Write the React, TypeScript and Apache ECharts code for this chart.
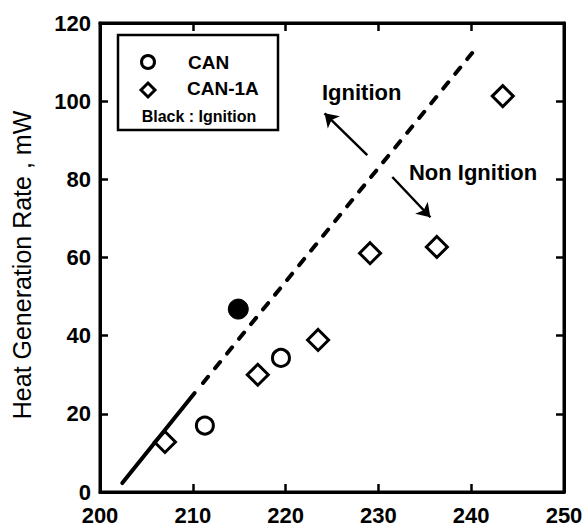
import React, { useEffect, useRef } from "react";
import * as echarts from "echarts";

const canOpen: number[][] = [[211.3, 17], [219.5, 34.3]];
const canIgnition: number[][] = [[214.9, 46.8]];
const can1aOpen: number[][] = [[207.0, 12.8], [217.0, 30.0], [223.5, 38.9], [229.1, 61.1], [236.3, 62.7], [243.4, 101.3]];
const solidBoundary: number[][] = [[202.4, 2.3], [210.2, 25.3]];
const dashedBoundary: number[][] = [[211.1, 27.9], [240.1, 112.3]];
const ignitionArrow: number[][] = [[228.8, 86.2], [224.2, 96.9]];
const nonIgnitionArrow: number[][] = [[231.5, 80.6], [235.6, 70.3]];
const annotations: { name: string; value: number[] }[] = [
  { name: "Ignition", value: [228.2, 102.3] },
  { name: "Non Ignition", value: [240.2, 81.8] },
];
const xRange: number[] = [200, 250];
const yRange: number[] = [0, 120];
const yTitle = "Heat Generation Rate , mW";

const FONT = "Liberation Sans, Arial, sans-serif";

export default function App() {
  const ref = useRef<HTMLDivElement>(null);
  useEffect(() => {
    if (!ref.current) return;
    const chart = echarts.init(ref.current, null, { renderer: "svg" });
    const axisLine = () => ({ show: true, onZero: false, lineStyle: { color: "#000", width: 3 } });
    const tick = () => ({ show: true, inside: true, length: 8, lineStyle: { color: "#000", width: 2.5 } });
    const tickLabel = { color: "#000", fontFamily: FONT, fontWeight: "bold" as const, fontSize: 22, lineHeight: 22 };
    const txt = (text: string, size: number, bold: boolean, extra: any = {}) => ({
      text, fill: "#000", fontSize: size, fontWeight: bold ? "bold" : "normal", fontFamily: FONT, ...extra,
    });
    chart.setOption({
      animation: false,
      backgroundColor: "#fff",
      grid: { left: 100, right: 23, top: 23, bottom: 34, show: true, borderColor: "#000", borderWidth: 3 },
      xAxis: [
        {
          type: "value", min: xRange[0], max: xRange[1], interval: 10, position: "bottom",
          axisLine: axisLine(), axisTick: tick(), splitLine: { show: false },
          axisLabel: { ...tickLabel, margin: 12 },
        },
        {
          type: "value", min: xRange[0], max: xRange[1], interval: 10, position: "top",
          axisLine: axisLine(), axisTick: tick(), splitLine: { show: false }, axisLabel: { show: false },
        },
      ],
      yAxis: [
        {
          type: "value", min: yRange[0], max: yRange[1], interval: 20, position: "left",
          axisLine: axisLine(), axisTick: tick(), splitLine: { show: false },
          axisLabel: { ...tickLabel, margin: 9 },
        },
        {
          type: "value", min: yRange[0], max: yRange[1], interval: 20, position: "right",
          axisLine: axisLine(), axisTick: tick(), splitLine: { show: false }, axisLabel: { show: false },
        },
      ],
      series: [
        {
          type: "line", data: solidBoundary, showSymbol: false, symbol: "none",
          lineStyle: { color: "#000", width: 4, cap: "round", opacity: 1 },
        },
        {
          type: "line", data: dashedBoundary, showSymbol: false, symbol: "none",
          lineStyle: { color: "#000", width: 4, type: [8, 11], cap: "round", opacity: 1 },
        },
        {
          name: "CAN", type: "scatter", data: canOpen, symbol: "circle", symbolSize: 17,
          itemStyle: { color: "#fff", borderColor: "#000", borderWidth: 3, opacity: 1 },
        },
        {
          name: "CAN ignition", type: "scatter", data: canIgnition, symbol: "circle", symbolSize: 20,
          itemStyle: { color: "#000", borderColor: "#000", borderWidth: 1, opacity: 1 },
        },
        {
          name: "CAN-1A", type: "scatter", data: can1aOpen, symbol: "diamond", symbolSize: [21, 21],
          itemStyle: { color: "#fff", borderColor: "#000", borderWidth: 3, opacity: 1 },
        },
        {
          type: "lines", coordinateSystem: "cartesian2d",
          data: [{ coords: ignitionArrow }, { coords: nonIgnitionArrow }],
          symbol: ["none", "arrow"], symbolSize: 13,
          lineStyle: { color: "#000", width: 2.5, opacity: 1 },
        },
        {
          type: "scatter", data: annotations, symbolSize: 1,
          itemStyle: { color: "transparent", opacity: 1 },
          label: {
            show: true, position: "inside", formatter: "{b}", opacity: 1,
            color: "#000", fontFamily: FONT, fontWeight: "bold", fontSize: 22,
          },
        },
      ],
      graphic: [
        {
          type: "text", x: 22, y: 265, rotation: Math.PI / 2, z: 11,
          style: txt(yTitle, 25, false, { align: "center", verticalAlign: "middle" }),
        },
        {
          type: "rect", shape: { x: 118, y: 35, width: 160, height: 95 },
          style: { fill: "#fff", stroke: "#000", lineWidth: 2.5 }, z: 10,
        },
        {
          type: "circle", shape: { cx: 148, cy: 62, r: 6.5 },
          style: { fill: "#fff", stroke: "#000", lineWidth: 3 }, z: 11,
        },
        {
          type: "polygon", shape: { points: [[148, 83], [155, 90], [148, 97], [141, 90]] },
          style: { fill: "#fff", stroke: "#000", lineWidth: 3 }, z: 11,
        },
        { type: "text", x: 188, y: 62, z: 11, style: txt("CAN", 19, true, { verticalAlign: "middle" }) },
        { type: "text", x: 187, y: 88, z: 11, style: txt("CAN-1A", 19, true, { verticalAlign: "middle" }) },
        {
          type: "text", x: 199, y: 116, z: 11,
          style: txt("Black : Ignition", 16, true, { align: "center", verticalAlign: "middle" }),
        },
      ],
    });
    return () => chart.dispose();
  }, []);
  return <div ref={ref} style={{ position: "fixed", left: 0, top: 0, width: 587, height: 526 }} />;
}
